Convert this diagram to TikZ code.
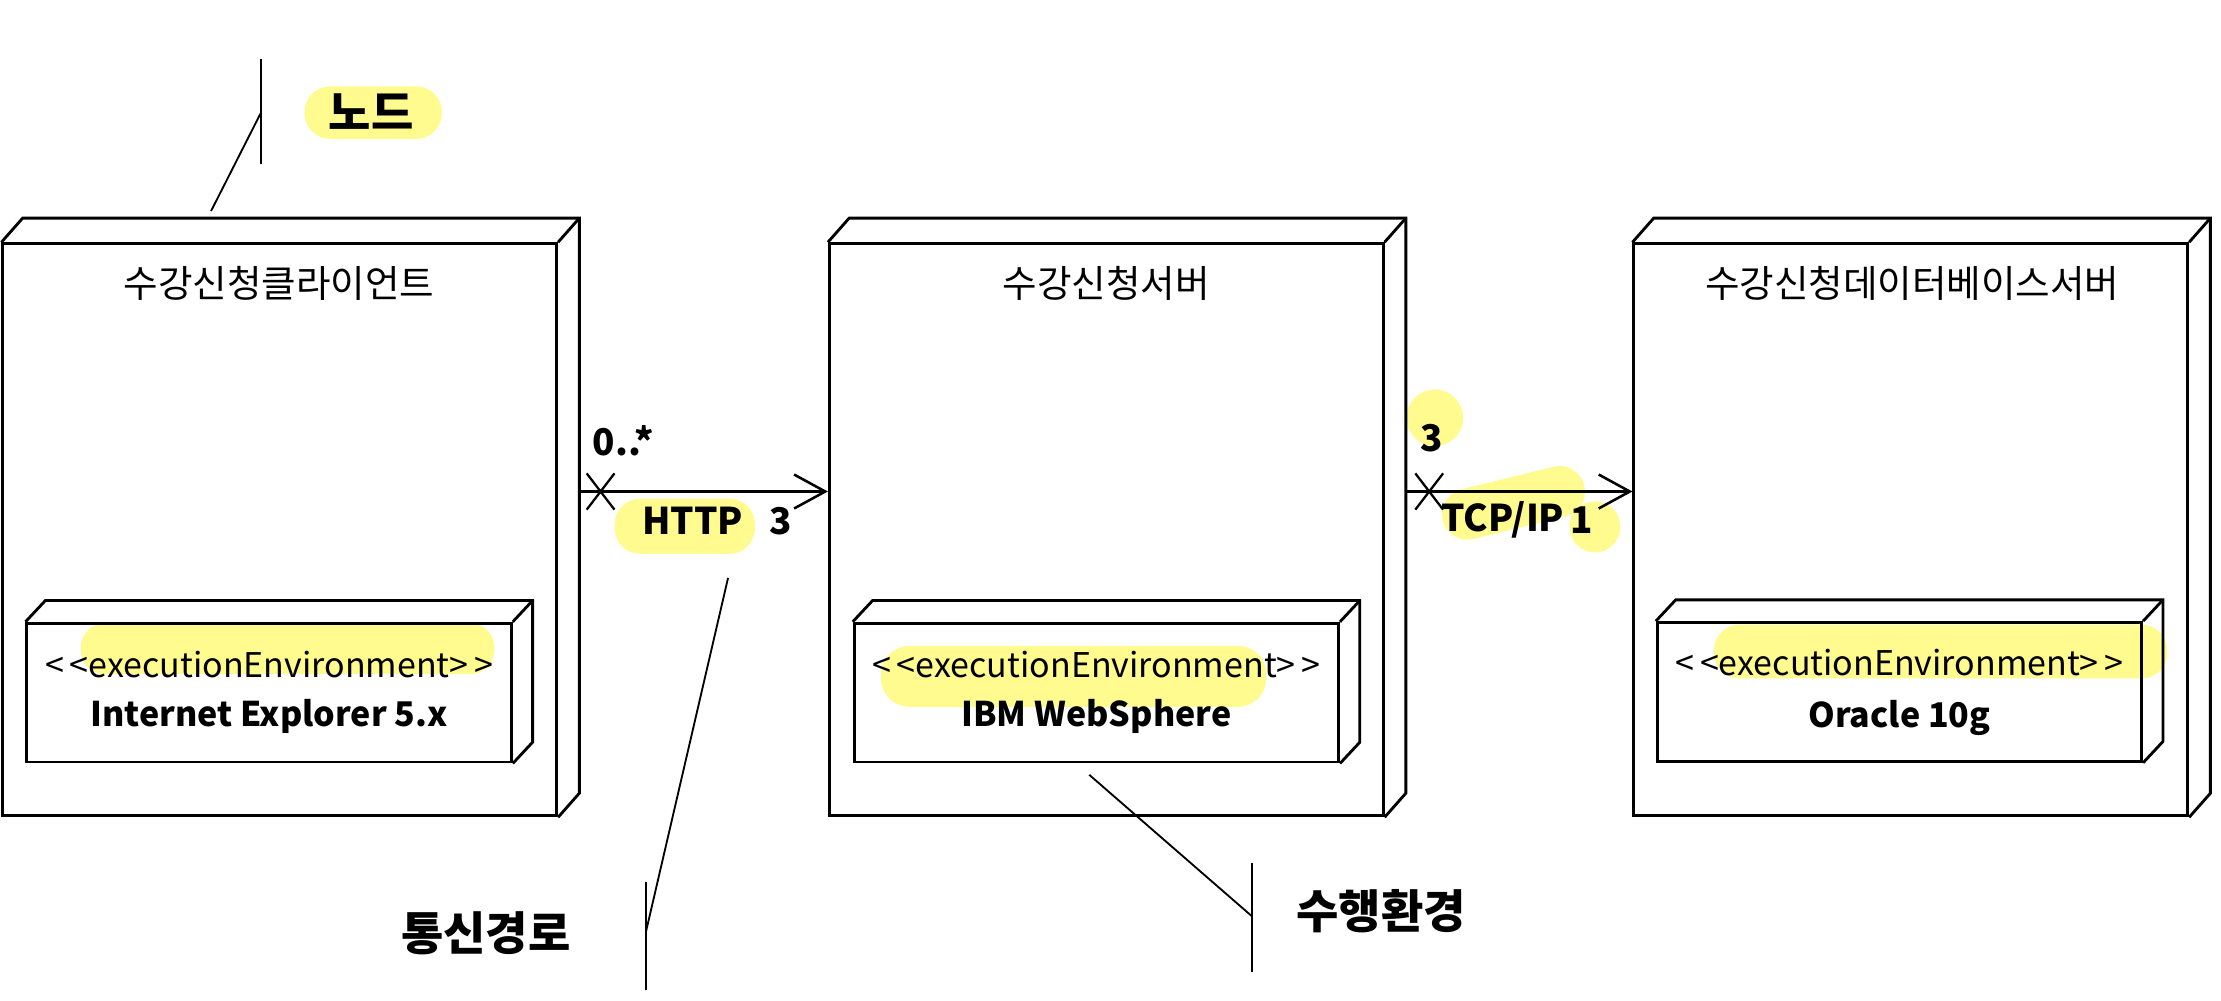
\documentclass[tikz,border=0pt]{standalone}
\usepackage{fontspec}
\setmainfont{Noto Sans CJK KR}
\usetikzlibrary{calc,arrows.meta,shapes.misc}
\definecolor{hl}{RGB}{255,251,143}
\newcommand{\depthlines}[3]{%
  \draw[boxline] (#1.north west) -- ++(#2,-#3) -- ($(#1.north east)+(#2,-#3)$) -- ($(#1.south east)+(#2,-#3)$) -- (#1.south east);
  \draw[boxline] (#1.north east) -- ++(#2,-#3);}
\begin{document}
\begin{tikzpicture}[x=1pt,y=-1pt,
  boxline/.style={line width=2pt, line join=miter},
  outerbox/.style={draw, boxline, minimum width=391pt, minimum height=404pt, inner sep=0pt},
  innerbox/.style={draw, boxline, minimum width=342pt, minimum height=98pt, inner sep=0pt},
  titletext/.style={inner sep=0pt, font=\fontsize{26.5}{30}\selectfont},
  stereo/.style={inner sep=0pt, font=\fontsize{24}{28}\selectfont},
  nametext/.style={inner sep=0pt, font=\fontsize{24}{28}\selectfont\bfseries},
  lbl/.style={inner sep=0pt, font=\fontsize{26}{30}\selectfont\bfseries},
  notetext/.style={inner sep=0pt, font=\fontsize{32.5}{36}\selectfont\bfseries},
  conn/.style={line width=1.8pt, -{Straight Barb[length=22pt,width=24pt,line width=1.8pt]}},
  xmark/.style={draw, cross out, line width=1.6pt, minimum width=18pt, minimum height=24pt, inner sep=0pt},
  note/.style={line width=1.3pt},
  hlfill/.style={fill=hl}
]
\useasboundingbox (0,0) rectangle (1568,706);

% highlights (drawn first, under everything)
\fill[hlfill, rounded corners=18pt] (215,61) rectangle (312,98);
\fill[hlfill, rounded corners=17pt] (57,440) rectangle (349,476);
\fill[hlfill, rounded corners=20pt] (622,456) rectangle (894,499);
\fill[hlfill, rounded corners=18pt] (1210,441) rectangle (1530,479);
\fill[hlfill, rounded corners=18pt] (434,352) rectangle (533,391);
\fill[hlfill] (1013,295) circle (20pt);
\draw[hl, line width=36pt, line cap=round] (1036,363) -- (1101,347);
\fill[hlfill] (1126,372) circle (18pt);

% outer nodes
\node[outerbox] (client) at (197.5,374) {};
\node[outerbox] (server) at (781,374) {};
\node[outerbox] (dbserver) at (1349,374) {};
\depthlines{client}{15}{17}
\depthlines{server}{15}{17}
\depthlines{dbserver}{15}{17}

\node[titletext] (clientT) at (197,200) {수강신청클라이언트};
\node[titletext] (serverT) at (781,200) {수강신청서버};
\node[titletext] (dbT) at (1350,200) {수강신청데이터베이스서버};

% execution environments
\node[innerbox] (ie) at (190,489) {};
\node[innerbox] (was) at (774,489) {};
\node[innerbox] (ora) at (1341,488.5) {};
\depthlines{ie}{14}{15}
\depthlines{was}{14}{15}
\depthlines{ora}{14}{15}

\node[stereo] (ieS) at (190,469) {<\,<executionEnvironment>\,>};
\node[nametext] (ieN) at (190,506) {Internet Explorer 5.x};
\node[stereo] (wasS) at (774,469) {<\,<executionEnvironment>\,>};
\node[nametext] (wasN) at (774,506) {IBM WebSphere};
\node[stereo] (oraS) at (1341,468) {<\,<executionEnvironment>\,>};
\node[nametext] (oraN) at (1341,507) {Oracle 10g};

% communication paths
\draw[conn] ([xshift=15pt,yshift=27pt]client.east) -- ([yshift=27pt]server.west);
\draw[conn] ([xshift=15pt,yshift=27pt]server.east) -- ([yshift=27pt]dbserver.west);
\node[xmark] (x1) at (424,347) {};
\node[xmark] (x2) at (1009,347) {};

\node[lbl] (m1) at (440,311) {0..*};
\node[lbl] (p1) at (489,368) {HTTP};
\node[lbl] (m2) at (551,368) {3};
\node[lbl] (m3) at (1011,309) {3};
\node[lbl] (p2) at (1061,367) {TCP/IP};
\node[lbl] (m4) at (1117,367) {1};

% annotations
\node[notetext] (nodeL) at (262,79) {노드};
\node[notetext] (pathL) at (343,659) {통신경로};
\node[notetext] (envL) at (975,643) {수행환경};

\coordinate (a1top) at (184,42);
\coordinate (a1bot) at (184,116);
\coordinate (a1mid) at (184,80);
\coordinate (a1tip) at (149,149);
\draw[note] (a1top) -- (a1bot);
\draw[note] (a1mid) -- (a1tip);

\coordinate (a2top) at (456,623);
\coordinate (a2bot) at (456,699);
\coordinate (a2mid) at (456,658);
\coordinate (a2tip) at (514,408);
\draw[note] (a2top) -- (a2bot);
\draw[note] (a2mid) -- (a2tip);

\coordinate (a3top) at (884,609);
\coordinate (a3bot) at (884,686);
\coordinate (a3mid) at (884,647);
\coordinate (a3tip) at (769,547);
\draw[note] (a3top) -- (a3bot);
\draw[note] (a3mid) -- (a3tip);
\end{tikzpicture}
\end{document}
